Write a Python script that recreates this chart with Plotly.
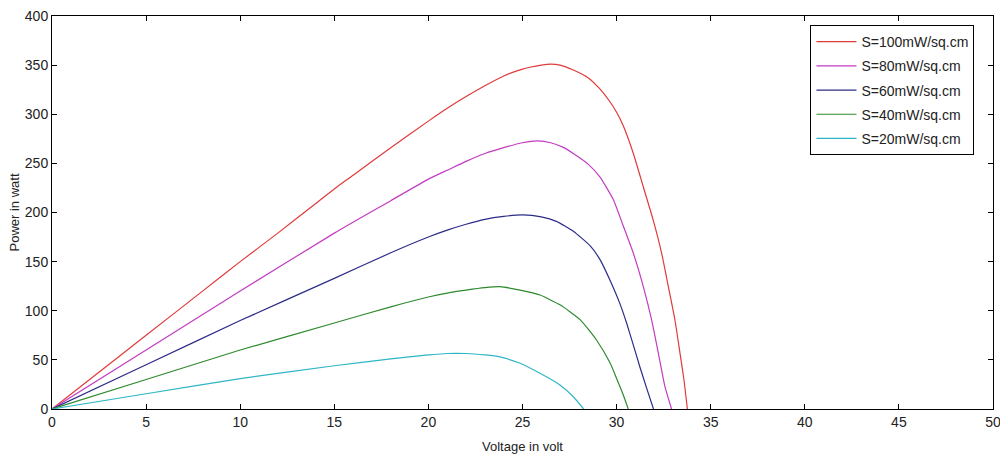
import plotly.graph_objects as go

# Voltage (V) and power (W), one pair of lists per irradiance
v_100 = [0, 2, 5, 8, 10, 12, 14, 15, 16, 18, 20, 21, 22, 23, 24, 25, 26, 26.5, 27, 27.7, 28.5, 29.1, 29.6, 30.0,
         30.36, 30.89, 31.42, 31.95, 32.4, 32.75, 33.1, 33.37, 33.58, 33.76]
p_100 = [0, 30, 75, 120, 150, 179, 209, 224, 238, 266, 293, 306, 318, 329, 339, 346, 350, 351, 350, 345, 337, 326, 314, 302,
         288, 260, 226, 192, 158, 124.5, 90.6, 56.7, 29.5, 0]

v_80 = [0, 5, 10, 15, 18, 20, 21, 22, 23, 24, 25, 25.8, 26.5, 27.2, 27.7, 28.5, 29.12, 29.83, 30.36, 30.89, 31.42,
        31.86, 32.22, 32.57, 32.92]
p_80 = [0, 60, 120, 179, 212, 234, 243, 252, 260, 266, 271, 273, 271, 266, 260, 249, 236, 213, 186, 158.5, 124.5,
        90.6, 56.7, 22.7, 0]

v_60 = [0, 5, 10, 15, 18, 20, 21, 22, 23, 24, 25, 26, 26.8, 27.7, 28.6, 29.12, 29.65, 30.18, 30.54, 30.89, 31.25,
        31.6, 31.96]
p_60 = [0, 45, 90, 133, 159, 175, 182, 188, 193, 196, 197.5, 195.5, 191, 181, 166, 152, 131, 107, 87, 65, 42, 21, 0]

v_40 = [0, 5, 10, 15, 18, 20, 21, 22, 23, 23.8, 24.87, 25.93, 26.99, 28.06, 28.94, 29.65, 30.0, 30.36, 30.62]
p_40 = [0, 30, 60, 87.5, 104, 114, 118, 121, 123.5, 124.5, 121, 116, 106, 91, 70, 47, 31, 14, 0]

v_20 = [0, 5, 10, 15, 18, 20, 21, 22, 23, 23.8, 24.87, 25.93, 26.99, 27.7, 28.25]
p_20 = [0, 15.5, 31, 44, 51, 55, 56.5, 56.5, 55, 53, 46.5, 36.3, 24.4, 12.5, 0]

names = ["S=100mW/sq.cm", "S=80mW/sq.cm", "S=60mW/sq.cm", "S=40mW/sq.cm", "S=20mW/sq.cm"]
colors = ["#e03a3a", "#c23cc2", "#2c2c88", "#2e8a2e", "#2fb6c6"]
series = [(v_100, p_100), (v_80, p_80), (v_60, p_60), (v_40, p_40), (v_20, p_20)]

x_ticks = list(range(0, 51, 5))
y_ticks = list(range(0, 401, 50))

fig = go.Figure()
for i, ((v, p), n, c) in enumerate(zip(series, names, colors)):
    fig.add_trace(go.Scatter(x=v, y=p, mode="lines", name=n, legendgroup=f"g{i}",
                             line=dict(color=c, width=1.2, shape="spline", smoothing=0.5)))

font_family = "Liberation Sans, Arial, sans-serif"
axis_common = dict(showline=True, linecolor="black", linewidth=1, mirror="ticks",
                   ticks="inside", ticklen=5, tickcolor="black", showgrid=False,
                   zeroline=False, ticklabeloverflow="allow", automargin=False,
                   tickfont=dict(family=font_family, size=14, color="#222"))

fig.update_layout(
    width=1000, height=454,
    margin=dict(l=52, r=7, t=16, b=45),
    paper_bgcolor="white", plot_bgcolor="white",
    font=dict(family=font_family, size=13, color="#222"),
    xaxis=dict(range=[0, 50], tickvals=x_ticks, title=dict(text="Voltage in volt", standoff=13,
               font=dict(size=13)), **axis_common),
    yaxis=dict(range=[0, 400], tickvals=y_ticks, title=dict(text="Power in watt", standoff=2,
               font=dict(size=13)), **axis_common),
    legend=dict(x=0.806, y=0.977, xanchor="left", yanchor="top", bgcolor="white",
                bordercolor="black", borderwidth=1, font=dict(family=font_family, size=14, color="#222"),
                tracegroupgap=3, itemwidth=40),
    showlegend=True,
)

fig.write_html("out.html")
